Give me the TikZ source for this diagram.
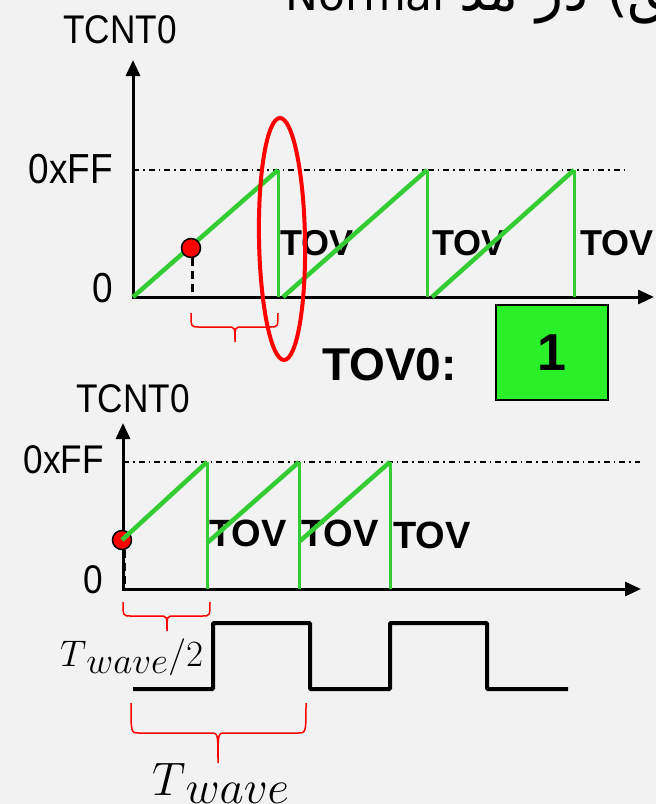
\RequirePackage{fix-cm}
\documentclass[tikz,border=0pt]{standalone}
\usepackage[no-math]{fontspec}
\setmainfont{Liberation Sans}
\newfontfamily\lab[FakeStretch=0.88]{Liberation Sans}
\newfontfamily\arabicfont[Script=Arabic]{DejaVu Sans}
\TeXXeTstate=1
\usetikzlibrary{arrows.meta}
\definecolor{bg}{HTML}{F2F2F2}
\definecolor{grn}{HTML}{33CC33}
\definecolor{boxgrn}{HTML}{29F029}
\newcommand\mybrace[6]{%
  \draw[rbr] (#1,#4) .. controls (#1,#5) and (#1,#5) .. (#1+8,#5) -- (#3-7,#5)
    .. controls (#3,#5) and (#3,#5) .. (#3,#6)
    .. controls (#3,#5) and (#3,#5) .. (#3+7,#5) -- (#2-8,#5)
    .. controls (#2,#5) and (#2,#5) .. (#2,#4);}
\begin{document}
\begin{tikzpicture}[x=1pt,y=-1pt,
  axis/.style={line width=3pt,-{Triangle[length=16pt,width=14pt]}},
  ramp/.style={grn,line width=4.5pt},
  drop/.style={grn,line width=3pt},
  ffline/.style={line width=1.3pt,dash pattern=on 6pt off 4pt on 1.5pt off 4pt},
  lbl/.style={inner sep=0pt,font=\lab\fontsize{40}{40}\selectfont},
  tov/.style={inner sep=0pt,font=\bfseries\fontsize{36}{36}\selectfont},
  dot/.style={circle,fill=red,draw=black,line width=1.5pt,inner sep=0pt,minimum size=19pt},
  stem/.style={line width=3pt,dash pattern=on 8pt off 5pt},
  rbr/.style={red,line width=1.5pt},
  wave/.style={line width=4pt,rounded corners=1pt},
  mlbl/.style={inner sep=0pt}]
\useasboundingbox (0,0) rectangle (656,804);
\clip (0,0) rectangle (656,804);
\fill[bg] (0,0) rectangle (656,804);

% title (cut off at top)
\node[anchor=base west,inner sep=0pt,font=\arabicfont\fontsize{44}{44}\selectfont] (title) at (285,10)
  {\beginR{\fontsize{56}{56}\selectfont (مطلق) در مد} \beginL Normal\endL\endR};

% ---------- top chart ----------
\coordinate (o1) at (133,298.5);
\coordinate (y1) at (133,60);
\coordinate (x1) at (654,297);
\coordinate (o1x) at (131.5,297);
\coordinate (ff1a) at (133,170);
\coordinate (ff1b) at (625,170);
\draw[ffline] (ff1a) -- (ff1b);
\draw[axis] (o1) -- (y1);
\draw[axis] (o1x) -- (x1);

\node[lbl,anchor=base west] (tc1) at (63,43) {TCNT0};
\node[lbl,anchor=base east,font=\lab\fontsize{42}{42}\selectfont] (ffl1) at (113,183) {0xFF};
\node[lbl,anchor=base east,font=\lab\fontsize{42}{42}\selectfont] (zl1) at (113,302) {0};

\node[tov,anchor=base west] (tova) at (280,255) {TOV};
\node[tov,anchor=base west] (tovb) at (432,255) {TOV};
\node[tov,anchor=base west] (tovc) at (580,255) {TOV};

\coordinate (a0) at (133,297); \coordinate (a1) at (278,170); \coordinate (a2) at (278,297);
\coordinate (a3) at (283,297); \coordinate (a4) at (427,170); \coordinate (a5) at (427,297);
\coordinate (a6) at (432,297); \coordinate (a7) at (574,170); \coordinate (a8) at (574,297);
\draw[ramp] (a0) -- (a1); \draw[drop] (a1) -- (a2);
\draw[ramp] (a3) -- (a4); \draw[drop] (a4) -- (a5);
\draw[ramp] (a6) -- (a7); \draw[drop] (a7) -- (a8);

\coordinate (d1b) at (192,297);
\node[dot] (d1) at (191,248) {};
\draw[stem] (d1.south) ++(1,0) -- (d1b);

\mybrace{191}{278}{235}{313}{327}{342}

\draw[red,line width=4pt,rotate around={1:(282,239)}] (282,239) ellipse [x radius=23,y radius=121];

\node[inner sep=0pt,anchor=base west,font=\bfseries\fontsize{46}{46}\selectfont] (tov0) at (322,380) {TOV0:};
\node[draw=black,line width=1.5pt,fill=boxgrn,minimum width=112pt,minimum height=95pt,inner sep=0pt,
  font=\bfseries\fontsize{52}{52}\selectfont] (flag) at (552,352.5) {1};

% ---------- bottom chart ----------
\coordinate (o2) at (123,590.5);
\coordinate (y2) at (123,423);
\coordinate (x2) at (641,589);
\coordinate (o2x) at (121.5,589);
\coordinate (ff2a) at (123,462);
\coordinate (ff2b) at (640,462);
\draw[ffline] (ff2a) -- (ff2b);
\draw[axis] (o2) -- (y2);
\draw[axis] (o2x) -- (x2);

\node[lbl,anchor=base west] (tc2) at (76,412) {TCNT0};
\node[lbl,anchor=base east] (ffl2) at (104,473) {0xFF};
\node[lbl,anchor=base east] (zl2) at (103,593) {0};

\node[tov,anchor=base west,font=\bfseries\fontsize{38}{38}\selectfont] (tovd) at (209,546) {TOV};
\node[tov,anchor=base west,font=\bfseries\fontsize{38}{38}\selectfont] (tove) at (301,546) {TOV};
\node[tov,anchor=base west,font=\bfseries\fontsize{38}{38}\selectfont] (tovf) at (393,548) {TOV};

\coordinate (d2b) at (124,589);
\node[dot] (d2) at (122,540) {};
\draw[stem] (d2.south) ++(2,0) -- (d2b);

\coordinate (b1) at (207,462); \coordinate (b2) at (207,589);
\coordinate (b3) at (207,543); \coordinate (b4) at (299,462); \coordinate (b5) at (299,589);
\coordinate (b6) at (300,541); \coordinate (b7) at (390,462); \coordinate (b8) at (390,589);
\draw[ramp] (d2.center) -- (b1); \draw[drop] (b1) -- (b2);
\draw[ramp] (b3) -- (b4); \draw[drop] (b4) -- (b5);
\draw[ramp] (b6) -- (b7); \draw[drop] (b7) -- (b8);

\mybrace{123}{210}{167}{602}{616}{631}

% square wave
\draw[wave] (133,689) -- (213,689) -- (213,623) -- (310,623) -- (310,689) -- (390,689)
  -- (390,623) -- (487,623) -- (487,689) -- (568,689);

\node[mlbl,anchor=base west,font=\fontsize{37}{37}\selectfont] (thalf) at (60,666)
  {$T$\raisebox{-7pt}{$wave$}$/2$};

\mybrace{131}{306}{218}{703}{733}{763}

\node[mlbl,anchor=base west,font=\fontsize{47}{47}\selectfont] (tw) at (152,795)
  {$T$\raisebox{-8pt}{$wave$}};
\end{tikzpicture}
\end{document}
